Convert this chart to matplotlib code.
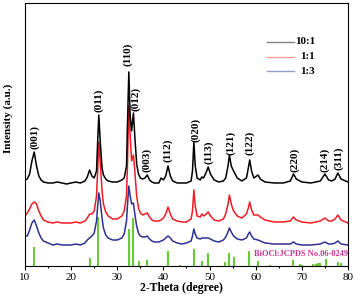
import matplotlib
matplotlib.use('Agg')
import matplotlib.pyplot as plt
from matplotlib.ticker import MultipleLocator

plt.rcParams['font.family'] = ['Liberation Serif', 'DejaVu Serif']

# 2-theta sample points
two_theta = [10, 10.5, 11, 11.5, 12, 12.5, 13, 13.5, 14, 15, 16, 17, 18, 19, 20, 21, 22, 23, 23.5, 24,
             24.5, 25, 25.5, 25.8, 26, 26.3, 26.7, 27, 27.5, 28, 29, 30, 31, 31.5, 32, 32.2, 32.5, 32.8, 33.1, 33.5,
             33.8, 34.2, 34.6, 35, 35.5, 36, 36.5, 37, 37.5, 38, 39, 39.5, 40, 40.5, 41, 41.5, 42, 43, 44, 45,
             46, 46.3, 46.6, 46.9, 47.3, 48, 48.3, 48.7, 49.3, 49.7, 50.2, 51, 52, 53, 53.5, 54, 54.3, 54.7, 55.2, 56,
             57, 58, 58.4, 58.7, 59.1, 59.6, 60.5, 61, 62, 64, 66, 67.5, 68.2, 68.8, 70, 72, 74, 75, 75.8, 76.5,
             77.2, 77.8, 78.5, 80]

int_10_1 = [86, 87, 92, 105, 114, 100, 90, 86, 84, 83, 83, 84, 83, 82, 83, 84, 83, 85, 89, 96,
            90, 88, 95, 130, 151, 125, 98, 91, 87, 85, 84, 84, 86, 88, 100, 140, 194, 150, 135, 153,
            130, 102, 92, 88, 87, 88, 91, 86, 84, 83, 83, 88, 86, 90, 100, 90, 85, 83, 83, 83,
            85, 95, 124, 100, 88, 86, 89, 88, 94, 99, 92, 86, 84, 85, 88, 100, 111, 100, 95, 88,
            85, 88, 98, 106, 95, 88, 91, 87, 84, 83, 83, 85, 92, 87, 84, 83, 85, 92, 86, 85,
            87, 93, 87, 84]

int_1_1 = [50, 53, 57, 62, 64, 62, 55, 50, 46, 44, 43, 44, 43, 43, 43, 44, 43, 45, 48, 52,
           52, 55, 70, 100, 124, 105, 75, 62, 54, 50, 47, 47, 50, 55, 70, 100, 160, 130, 105, 111,
           95, 70, 58, 53, 51, 52, 53, 49, 46, 45, 45, 46, 48, 52, 59, 52, 47, 45, 44, 44,
           47, 55, 76, 60, 50, 49, 52, 50, 52, 54, 50, 46, 45, 47, 52, 62, 71, 62, 55, 50,
           48, 52, 58, 64, 56, 51, 51, 49, 46, 44, 44, 45, 49, 46, 44, 43, 45, 48, 45, 45,
           47, 51, 46, 43]

int_1_3 = [30, 30, 36, 43, 46, 40, 33, 28, 25, 23, 21, 22, 21, 21, 21, 22, 21, 23, 26, 28,
           30, 33, 45, 63, 73, 65, 48, 38, 31, 28, 26, 26, 28, 32, 45, 60, 80, 70, 62, 63,
           52, 40, 33, 30, 29, 29, 30, 27, 25, 24, 24, 25, 26, 28, 30, 28, 25, 23, 22, 23,
           25, 30, 37, 32, 28, 27, 28, 28, 28, 28, 27, 25, 24, 26, 29, 34, 38, 34, 30, 27,
           26, 28, 32, 34, 30, 27, 26, 25, 23, 22, 22, 22, 24, 22, 21, 21, 22, 24, 22, 22,
           23, 25, 22, 21]

# JCPDS 06-0249 reference sticks
ref_pos = [12.0, 24.1, 25.9, 32.5, 33.4, 34.8, 36.5, 40.9, 43.6, 46.6, 48.3, 49.7, 53.3, 54.2,
           55.2, 58.6, 60.6, 63.0, 68.1, 69.5, 70.1, 72.5, 73.0, 73.5, 73.9, 75.2, 77.9, 78.5]
ref_int = [19, 8, 49, 37, 48, 5, 6, 15, 1, 17, 5, 13, 4, 13,
           9, 15, 5, 1, 6, 2, 1, 2, 2, 3, 3, 7, 4, 3]

peak_labels = ['(001)', '(011)', '(110)', '(012)', '(003)', '(112)', '(020)', '(113)',
               '(121)', '(122)', '(220)', '(214)', '(311)']
label_x = [12.0, 25.9, 32.3, 34.1, 36.4, 41.0, 46.9, 49.9, 54.6, 58.8, 68.4, 75.0, 77.9]
label_y = [129, 166, 212, 167, 106, 116, 136, 114, 123, 123, 106, 106, 108]

series_names = ['10:1', '1:1', '1:3']
colors = ['#000000', '#ee1c24', '#2e3192']
legend_colors = ['#808080', '#ff9a9a', '#9a9ccc']

fig = plt.figure(figsize=(3.54, 2.97), dpi=100)
ax = fig.add_axes([0.0706, 0.1044, 0.9124, 0.8855])

ax.vlines(ref_pos, 0, ref_int, color='#66cc33', lw=1.5)
for ys, c in zip([int_1_3, int_1_1, int_10_1], colors[::-1]):
    ax.plot(two_theta, ys, color=c, lw=1.1)

for t, x, y in zip(peak_labels, label_x, label_y):
    ax.text(x, y, t, rotation=90, ha='center', va='center', fontsize=8, fontweight='bold')

ax.text(0.71, 0.045, 'BiOCl:JCPDS No.06-0249', transform=ax.transAxes, color='#cc3399',
        fontsize=6, fontweight='bold', va='center')

for i, (name, lc) in enumerate(zip(series_names, legend_colors)):
    yy = 0.852 - i * 0.056
    ax.plot([0.749, 0.833], [yy, yy], color=lc, lw=1.0, transform=ax.transAxes)
    ax.text(0.898, yy, name, transform=ax.transAxes, ha='right', va='center',
            fontsize=8, fontweight='bold')

ax.set_xlim(10, 80)
ax.set_ylim(0, 263)
ax.set_yticks([])
ax.xaxis.set_major_locator(MultipleLocator(10))
ax.xaxis.set_minor_locator(MultipleLocator(5))
ax.tick_params(axis='x', which='major', direction='out', length=3, width=0.8, labelsize=8, pad=2)
ax.tick_params(axis='x', which='minor', direction='out', length=1.5, width=0.8)
for s in ax.spines.values():
    s.set_linewidth(0.8)

ax.set_xlabel('2-Theta (degree)', fontsize=8.5, fontweight='bold')
ax.xaxis.set_label_coords(0.483, -0.06)
ax.set_ylabel('Intensity (a.u.)', fontsize=8, fontweight='bold')
ax.yaxis.set_label_coords(-0.038, 0.56)

fig.savefig('out.png', dpi=100)
